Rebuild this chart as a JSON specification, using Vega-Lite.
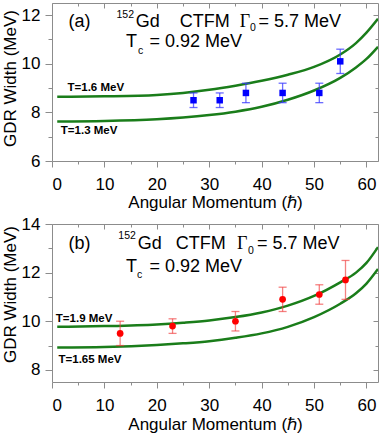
{
  "$schema": "https://vega.github.io/schema/vega-lite/v6.json",
  "padding": {"left": 0, "top": 2, "right": 2, "bottom": 0},
  "autosize": {"type": "pad"},
  "bounds": "flush",
  "spacing": 63,
  "config": {
    "font": "Liberation Sans",
    "view": {"stroke": "#8c8c8c", "strokeWidth": 1},
    "axis": {"domain": false, "grid": false, "tickColor": "#8c8c8c", "tickWidth": 1, "labelFontSize": 17, "titleFontSize": 17, "labelColor": "#000", "titleColor": "#000", "titleFontWeight": "normal", "labelFont": "Liberation Sans", "titleFont": "Liberation Sans"}
  },
  "datasets": {
    "curves": [
      {"panel": "a", "T": "1.6", "x": 1, "y": 8.64}, {"panel": "a", "T": "1.6", "x": 10, "y": 8.66}, {"panel": "a", "T": "1.6", "x": 20, "y": 8.72}, {"panel": "a", "T": "1.6", "x": 25, "y": 8.8}, {"panel": "a", "T": "1.6", "x": 30, "y": 8.93}, {"panel": "a", "T": "1.6", "x": 35, "y": 9.1}, {"panel": "a", "T": "1.6", "x": 40, "y": 9.3}, {"panel": "a", "T": "1.6", "x": 45, "y": 9.55}, {"panel": "a", "T": "1.6", "x": 50, "y": 9.87}, {"panel": "a", "T": "1.6", "x": 55, "y": 10.38}, {"panel": "a", "T": "1.6", "x": 58, "y": 10.85}, {"panel": "a", "T": "1.6", "x": 60, "y": 11.28}, {"panel": "a", "T": "1.6", "x": 62.2, "y": 11.85},
      {"panel": "a", "T": "1.3", "x": 1, "y": 7.63}, {"panel": "a", "T": "1.3", "x": 10, "y": 7.65}, {"panel": "a", "T": "1.3", "x": 20, "y": 7.72}, {"panel": "a", "T": "1.3", "x": 25, "y": 7.79}, {"panel": "a", "T": "1.3", "x": 30, "y": 7.89}, {"panel": "a", "T": "1.3", "x": 35, "y": 8.03}, {"panel": "a", "T": "1.3", "x": 40, "y": 8.23}, {"panel": "a", "T": "1.3", "x": 45, "y": 8.52}, {"panel": "a", "T": "1.3", "x": 50, "y": 8.9}, {"panel": "a", "T": "1.3", "x": 55, "y": 9.42}, {"panel": "a", "T": "1.3", "x": 58, "y": 9.85}, {"panel": "a", "T": "1.3", "x": 60, "y": 10.2}, {"panel": "a", "T": "1.3", "x": 62.2, "y": 10.7},
      {"panel": "b", "T": "1.9", "x": 1, "y": 9.77}, {"panel": "b", "T": "1.9", "x": 10, "y": 9.8}, {"panel": "b", "T": "1.9", "x": 20, "y": 9.87}, {"panel": "b", "T": "1.9", "x": 25, "y": 9.94}, {"panel": "b", "T": "1.9", "x": 30, "y": 10.03}, {"panel": "b", "T": "1.9", "x": 35, "y": 10.17}, {"panel": "b", "T": "1.9", "x": 40, "y": 10.36}, {"panel": "b", "T": "1.9", "x": 45, "y": 10.64}, {"panel": "b", "T": "1.9", "x": 50, "y": 11.04}, {"panel": "b", "T": "1.9", "x": 55, "y": 11.6}, {"panel": "b", "T": "1.9", "x": 58, "y": 12.0}, {"panel": "b", "T": "1.9", "x": 60, "y": 12.4}, {"panel": "b", "T": "1.9", "x": 62.2, "y": 13.05},
      {"panel": "b", "T": "1.65", "x": 1, "y": 8.92}, {"panel": "b", "T": "1.65", "x": 10, "y": 8.94}, {"panel": "b", "T": "1.65", "x": 20, "y": 9.02}, {"panel": "b", "T": "1.65", "x": 25, "y": 9.09}, {"panel": "b", "T": "1.65", "x": 30, "y": 9.18}, {"panel": "b", "T": "1.65", "x": 35, "y": 9.32}, {"panel": "b", "T": "1.65", "x": 40, "y": 9.5}, {"panel": "b", "T": "1.65", "x": 45, "y": 9.77}, {"panel": "b", "T": "1.65", "x": 50, "y": 10.17}, {"panel": "b", "T": "1.65", "x": 55, "y": 10.72}, {"panel": "b", "T": "1.65", "x": 58, "y": 11.15}, {"panel": "b", "T": "1.65", "x": 60, "y": 11.55}, {"panel": "b", "T": "1.65", "x": 62.2, "y": 12.15}
    ],
    "points": [
      {"panel": "a", "j": 27, "w": 8.5, "lo": 8.2, "hi": 8.8},
      {"panel": "a", "j": 32, "w": 8.5, "lo": 8.2, "hi": 8.8},
      {"panel": "a", "j": 37, "w": 8.8, "lo": 8.4, "hi": 9.2},
      {"panel": "a", "j": 44, "w": 8.8, "lo": 8.4, "hi": 9.2},
      {"panel": "a", "j": 51, "w": 8.8, "lo": 8.4, "hi": 9.2},
      {"panel": "a", "j": 55, "w": 10.1, "lo": 9.6, "hi": 10.6},
      {"panel": "b", "j": 13, "w": 9.5, "lo": 9.0, "hi": 10.0},
      {"panel": "b", "j": 23, "w": 9.8, "lo": 9.5, "hi": 10.1},
      {"panel": "b", "j": 35, "w": 10.0, "lo": 9.6, "hi": 10.4},
      {"panel": "b", "j": 44, "w": 10.9, "lo": 10.4, "hi": 11.4},
      {"panel": "b", "j": 51, "w": 11.1, "lo": 10.7, "hi": 11.5},
      {"panel": "b", "j": 56, "w": 11.7, "lo": 10.9, "hi": 12.5}
    ],
    "maintext": [
      {"panel": "a", "x": 3.15, "y": 11.53, "text": "(a)"},
      {"panel": "a", "x": 15.97, "y": 11.53, "text": "Gd"},
      {"panel": "a", "x": 24.38, "y": 11.53, "text": "CTFM"},
      {"panel": "a", "x": 39.4, "y": 11.53, "text": "= 5.7 MeV"},
      {"panel": "a", "x": 14.1, "y": 10.67, "text": "T"},
      {"panel": "a", "x": 18.6, "y": 10.67, "text": "= 0.92 MeV"},
      {"panel": "b", "x": 3.15, "y": 12.96, "text": "(b)"},
      {"panel": "b", "x": 16.35, "y": 12.96, "text": "Gd"},
      {"panel": "b", "x": 23.6, "y": 12.96, "text": "CTFM"},
      {"panel": "b", "x": 39.1, "y": 12.96, "text": "= 5.7 MeV"},
      {"panel": "b", "x": 14.1, "y": 12.03, "text": "T"},
      {"panel": "b", "x": 18.6, "y": 12.03, "text": "= 0.92 MeV"}
    ],
    "greek": [
      {"panel": "a", "x": 35.8, "y": 11.53, "text": "Γ"},
      {"panel": "b", "x": 35.3, "y": 12.96, "text": "Γ"}
    ],
    "scripts": [
      {"panel": "a", "x": 12.3, "y": 11.87, "text": "152"},
      {"panel": "a", "x": 37.8, "y": 11.35, "text": "0"},
      {"panel": "a", "x": 16.4, "y": 10.39, "text": "c"},
      {"panel": "b", "x": 12.65, "y": 13.37, "text": "152"},
      {"panel": "b", "x": 37.4, "y": 12.75, "text": "0"},
      {"panel": "b", "x": 16.2, "y": 11.78, "text": "c"}
    ],
    "curvelabels": [
      {"panel": "a", "x": 2.96, "y": 8.89, "text": "T=1.6 MeV"},
      {"panel": "a", "x": 1.68, "y": 7.1, "text": "T=1.3 MeV"},
      {"panel": "b", "x": 0.73, "y": 9.97, "text": "T=1.9 MeV"},
      {"panel": "b", "x": 1.24, "y": 8.3, "text": "T=1.65 MeV"}
    ]
  },
  "vconcat": [
    {
      "width": 326,
      "height": 158,
      "resolve": {"axis": {"x": "independent", "y": "independent"}},
      "layer": [
        {
          "data": {"name": "curves"},
          "transform": [{"filter": "datum.panel === 'a'"}],
          "mark": {"type": "line", "color": "#1a7d1a", "strokeWidth": 2.5, "interpolate": "monotone", "clip": true},
          "encoding": {
            "x": {"field": "x", "type": "quantitative", "scale": {"domain": [0, 62.2], "nice": false, "zero": false},
              "axis": {"orient": "bottom", "values": [0, 5, 10, 15, 20, 25, 30, 35, 40, 45, 50, 55, 60], "labelExpr": "datum.value % 10 === 0 ? datum.label : ''", "tickSize": {"condition": {"test": "datum.value % 10 === 0", "value": 6}, "value": 3}, "labelPadding": 9, "title": "Angular Momentum (ℏ)", "titlePadding": 2}},
            "y": {"field": "y", "type": "quantitative", "scale": {"domain": [6, 12.5], "nice": false, "zero": false},
              "axis": {"orient": "left", "values": [6, 7, 8, 9, 10, 11, 12], "labelExpr": "datum.value % 2 === 0 ? datum.label : ''", "tickSize": {"condition": {"test": "datum.value % 2 === 0", "value": 7}, "value": 4}, "labelPadding": 5, "title": "GDR Width (MeV)", "titlePadding": 2, "titleY": 75}},
            "detail": {"field": "T", "type": "nominal"}
          }
        },
        {
          "data": {"name": "points"},
          "transform": [{"filter": "datum.panel === 'a'"}],
          "mark": {"type": "errorbar", "ticks": {"size": 8}, "color": "#3a3aff", "opacity": 0.75, "thickness": 1.3},
          "encoding": {
            "x": {"field": "j", "type": "quantitative", "scale": {"domain": [0, 62.2], "nice": false, "zero": false}, "axis": null},
            "y": {"field": "lo", "type": "quantitative", "scale": {"domain": [6, 12.5], "nice": false, "zero": false}, "axis": null},
            "y2": {"field": "hi"}
          }
        },
        {
          "data": {"name": "points"},
          "transform": [{"filter": "datum.panel === 'a'"}],
          "mark": {"type": "square", "filled": true, "color": "#0000ff", "opacity": 1, "size": 42},
          "encoding": {
            "x": {"field": "j", "type": "quantitative", "scale": {"domain": [0, 62.2], "nice": false, "zero": false},
              "axis": {"orient": "top", "values": [0, 5, 10, 15, 20, 25, 30, 35, 40, 45, 50, 55, 60], "labels": false, "title": null, "tickSize": {"condition": {"test": "datum.value % 10 === 0", "value": -5}, "value": -3}}},
            "y": {"field": "w", "type": "quantitative", "scale": {"domain": [6, 12.5], "nice": false, "zero": false},
              "axis": {"orient": "right", "values": [6, 7, 8, 9, 10, 11, 12], "labels": false, "title": null, "tickSize": {"condition": {"test": "datum.value % 2 === 0", "value": -5}, "value": -3}}}
          }
        },
        {
          "data": {"name": "maintext"},
          "transform": [{"filter": "datum.panel === 'a'"}],
          "mark": {"type": "text", "align": "left", "baseline": "alphabetic", "fontSize": 18, "color": "#000"},
          "encoding": {
            "x": {"field": "x", "type": "quantitative", "scale": {"domain": [0, 62.2], "nice": false, "zero": false}, "axis": null},
            "y": {"field": "y", "type": "quantitative", "scale": {"domain": [6, 12.5], "nice": false, "zero": false}, "axis": null},
            "text": {"field": "text"}
          }
        },
        {
          "data": {"name": "greek"},
          "transform": [{"filter": "datum.panel === 'a'"}],
          "mark": {"type": "text", "align": "left", "baseline": "alphabetic", "fontSize": 18, "font": "Liberation Serif", "color": "#000"},
          "encoding": {
            "x": {"field": "x", "type": "quantitative", "scale": {"domain": [0, 62.2], "nice": false, "zero": false}, "axis": null},
            "y": {"field": "y", "type": "quantitative", "scale": {"domain": [6, 12.5], "nice": false, "zero": false}, "axis": null},
            "text": {"field": "text"}
          }
        },
        {
          "data": {"name": "scripts"},
          "transform": [{"filter": "datum.panel === 'a'"}],
          "mark": {"type": "text", "align": "left", "baseline": "alphabetic", "fontSize": 10.5, "color": "#000"},
          "encoding": {
            "x": {"field": "x", "type": "quantitative", "scale": {"domain": [0, 62.2], "nice": false, "zero": false}, "axis": null},
            "y": {"field": "y", "type": "quantitative", "scale": {"domain": [6, 12.5], "nice": false, "zero": false}, "axis": null},
            "text": {"field": "text"}
          }
        },
        {
          "data": {"name": "curvelabels"},
          "transform": [{"filter": "datum.panel === 'a'"}],
          "mark": {"type": "text", "align": "left", "baseline": "alphabetic", "fontSize": 11.5, "fontWeight": "bold", "color": "#000"},
          "encoding": {
            "x": {"field": "x", "type": "quantitative", "scale": {"domain": [0, 62.2], "nice": false, "zero": false}, "axis": null},
            "y": {"field": "y", "type": "quantitative", "scale": {"domain": [6, 12.5], "nice": false, "zero": false}, "axis": null},
            "text": {"field": "text"}
          }
        }
      ]
    },
    {
      "width": 326,
      "height": 158,
      "resolve": {"axis": {"x": "independent", "y": "independent"}},
      "layer": [
        {
          "data": {"name": "curves"},
          "transform": [{"filter": "datum.panel === 'b'"}],
          "mark": {"type": "line", "color": "#1a7d1a", "strokeWidth": 2.5, "interpolate": "monotone", "clip": true},
          "encoding": {
            "x": {"field": "x", "type": "quantitative", "scale": {"domain": [0, 62.2], "nice": false, "zero": false},
              "axis": {"orient": "bottom", "values": [0, 5, 10, 15, 20, 25, 30, 35, 40, 45, 50, 55, 60], "labelExpr": "datum.value % 10 === 0 ? datum.label : ''", "tickSize": {"condition": {"test": "datum.value % 10 === 0", "value": 6}, "value": 3}, "labelPadding": 9, "title": "Angular Momentum (ℏ)", "titlePadding": 3}},
            "y": {"field": "y", "type": "quantitative", "scale": {"domain": [7.5, 14], "nice": false, "zero": false},
              "axis": {"orient": "left", "values": [8, 9, 10, 11, 12, 13, 14], "labelExpr": "datum.value % 2 === 0 ? datum.label : ''", "tickSize": {"condition": {"test": "datum.value % 2 === 0", "value": 7}, "value": 4}, "labelPadding": 5, "title": "GDR Width (MeV)", "titlePadding": 2, "titleY": 70}},
            "detail": {"field": "T", "type": "nominal"}
          }
        },
        {
          "data": {"name": "points"},
          "transform": [{"filter": "datum.panel === 'b'"}],
          "mark": {"type": "errorbar", "ticks": {"size": 8}, "color": "#f03c3c", "opacity": 0.65, "thickness": 1.3},
          "encoding": {
            "x": {"field": "j", "type": "quantitative", "scale": {"domain": [0, 62.2], "nice": false, "zero": false}, "axis": null},
            "y": {"field": "lo", "type": "quantitative", "scale": {"domain": [7.5, 14], "nice": false, "zero": false}, "axis": null},
            "y2": {"field": "hi"}
          }
        },
        {
          "data": {"name": "points"},
          "transform": [{"filter": "datum.panel === 'b'"}],
          "mark": {"type": "circle", "color": "#ff0000", "opacity": 1, "size": 45},
          "encoding": {
            "x": {"field": "j", "type": "quantitative", "scale": {"domain": [0, 62.2], "nice": false, "zero": false},
              "axis": {"orient": "top", "values": [0, 5, 10, 15, 20, 25, 30, 35, 40, 45, 50, 55, 60], "labels": false, "title": null, "tickSize": {"condition": {"test": "datum.value % 10 === 0", "value": -5}, "value": -3}}},
            "y": {"field": "w", "type": "quantitative", "scale": {"domain": [7.5, 14], "nice": false, "zero": false},
              "axis": {"orient": "right", "values": [8, 9, 10, 11, 12, 13, 14], "labels": false, "title": null, "tickSize": {"condition": {"test": "datum.value % 2 === 0", "value": -5}, "value": -3}}}
          }
        },
        {
          "data": {"name": "maintext"},
          "transform": [{"filter": "datum.panel === 'b'"}],
          "mark": {"type": "text", "align": "left", "baseline": "alphabetic", "fontSize": 18, "color": "#000"},
          "encoding": {
            "x": {"field": "x", "type": "quantitative", "scale": {"domain": [0, 62.2], "nice": false, "zero": false}, "axis": null},
            "y": {"field": "y", "type": "quantitative", "scale": {"domain": [7.5, 14], "nice": false, "zero": false}, "axis": null},
            "text": {"field": "text"}
          }
        },
        {
          "data": {"name": "greek"},
          "transform": [{"filter": "datum.panel === 'b'"}],
          "mark": {"type": "text", "align": "left", "baseline": "alphabetic", "fontSize": 18, "font": "Liberation Serif", "color": "#000"},
          "encoding": {
            "x": {"field": "x", "type": "quantitative", "scale": {"domain": [0, 62.2], "nice": false, "zero": false}, "axis": null},
            "y": {"field": "y", "type": "quantitative", "scale": {"domain": [7.5, 14], "nice": false, "zero": false}, "axis": null},
            "text": {"field": "text"}
          }
        },
        {
          "data": {"name": "scripts"},
          "transform": [{"filter": "datum.panel === 'b'"}],
          "mark": {"type": "text", "align": "left", "baseline": "alphabetic", "fontSize": 10.5, "color": "#000"},
          "encoding": {
            "x": {"field": "x", "type": "quantitative", "scale": {"domain": [0, 62.2], "nice": false, "zero": false}, "axis": null},
            "y": {"field": "y", "type": "quantitative", "scale": {"domain": [7.5, 14], "nice": false, "zero": false}, "axis": null},
            "text": {"field": "text"}
          }
        },
        {
          "data": {"name": "curvelabels"},
          "transform": [{"filter": "datum.panel === 'b'"}],
          "mark": {"type": "text", "align": "left", "baseline": "alphabetic", "fontSize": 11.5, "fontWeight": "bold", "color": "#000"},
          "encoding": {
            "x": {"field": "x", "type": "quantitative", "scale": {"domain": [0, 62.2], "nice": false, "zero": false}, "axis": null},
            "y": {"field": "y", "type": "quantitative", "scale": {"domain": [7.5, 14], "nice": false, "zero": false}, "axis": null},
            "text": {"field": "text"}
          }
        }
      ]
    }
  ]
}
